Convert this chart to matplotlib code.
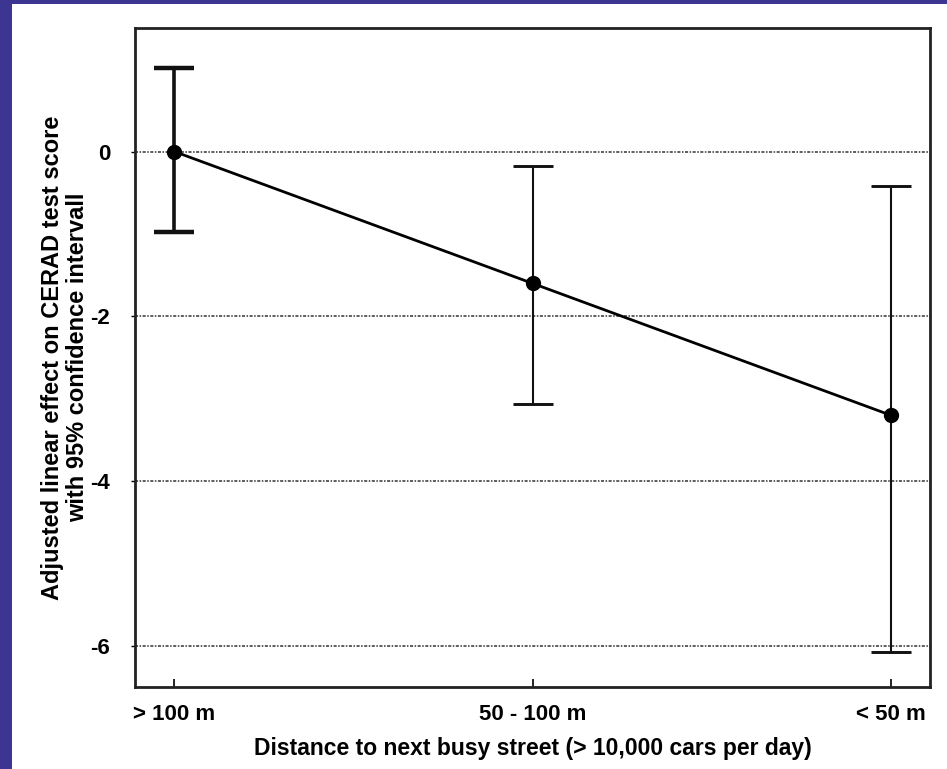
import matplotlib.pyplot as plt
from matplotlib.patches import Rectangle

# data
categories = ["> 100 m", "50 - 100 m", "< 50 m"]
effect = [0.0, -1.6, -3.2]
ci_low = [-0.98, -3.07, -6.07]
ci_high = [1.02, -0.17, -0.42]
yticks = [0, -2, -4, -6]

plt.rcParams['font.family'] = ['Liberation Sans', 'DejaVu Sans']
plt.rcParams['font.weight'] = 'bold'

fig = plt.figure(figsize=(9.47, 7.69), dpi=100, facecolor='#3d3592')
# white slide panel
fig.patches.append(Rectangle((12 / 947, 0), 1 - 12 / 947, 1 - 4 / 769,
                             transform=fig.transFigure, facecolor='white',
                             edgecolor='none', zorder=-10))

ax = fig.add_axes([135 / 947, 1 - 687 / 769, (930 - 135) / 947, (687 - 28) / 769])
ax.set_zorder(5)
ax.set_facecolor('white')

x = list(range(len(categories)))
ax.plot(x, effect, color='black', lw=2, zorder=3)
ax.plot(x, effect, 'o', color='black', ms=10, zorder=4)

for i in x:
    lw = 2.6 if i == 0 else 1.5
    ax.errorbar([i], [effect[i]],
                yerr=[[effect[i] - ci_low[i]], [ci_high[i] - effect[i]]],
                fmt='none', ecolor='#111111', elinewidth=lw, capsize=14.5,
                capthick=lw + 0.6, zorder=2)

ax.set_xlim(-0.11, 2.11)
ax.set_ylim(-6.5, 1.5)
ax.set_xticks(x)
ax.set_xticklabels(categories, fontsize=16, fontweight='bold')
ax.set_yticks(yticks)
ax.set_yticklabels([str(t) for t in yticks], fontsize=16, fontweight='bold')

for t in yticks:
    ax.axhline(t, color='#333333', lw=1.1, ls=(0, (2, 1, 1, 1)), zorder=1)

ax.tick_params(axis='x', direction='in', length=6, width=1.2, pad=12)
ax.tick_params(axis='y', direction='out', length=3, width=1.0, pad=15)
for s in ax.spines.values():
    s.set_linewidth(2)
    s.set_color('#222222')

ax.set_xlabel("Distance to next busy street (> 10,000 cars per day)",
              fontsize=16.5, fontweight='bold', labelpad=9)
ax.set_ylabel("Adjusted linear effect on CERAD test score\nwith 95% confidence intervall",
              fontsize=17, fontweight='bold', linespacing=1.12)
ax.yaxis.set_label_coords(-0.058, 0.5)

fig.savefig("out.png", dpi=100, facecolor=fig.get_facecolor())
